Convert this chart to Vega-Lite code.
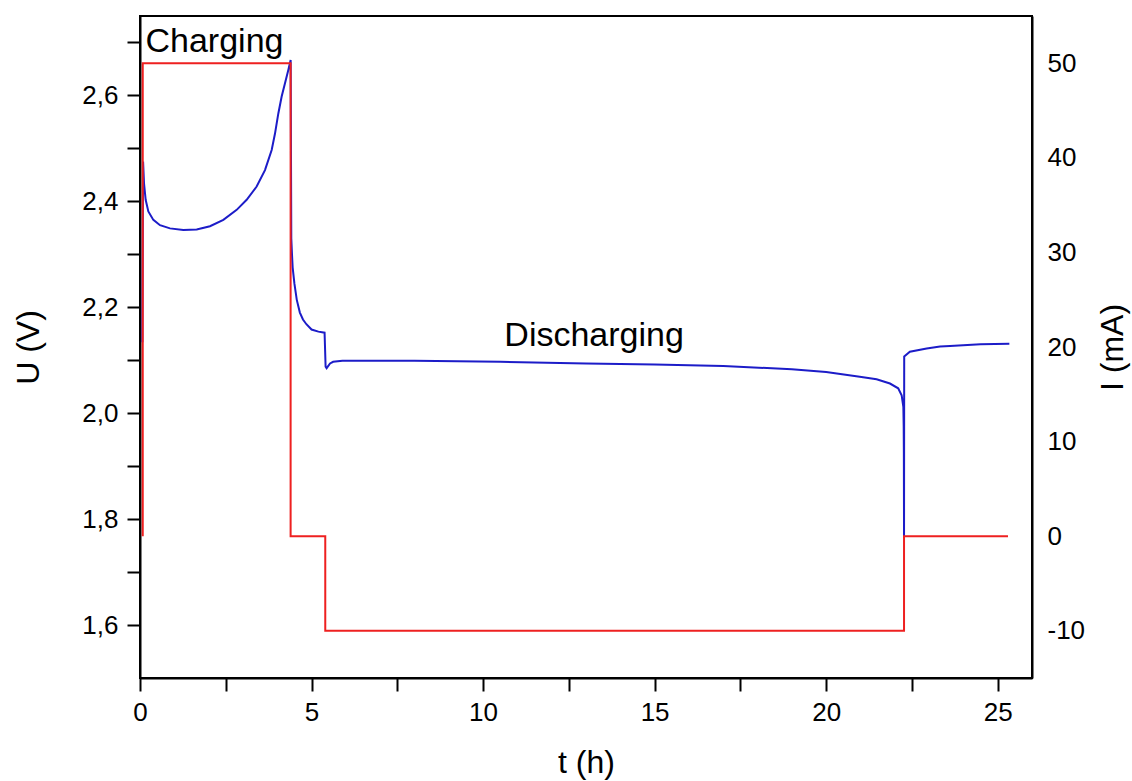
{
  "$schema": "https://vega.github.io/schema/vega-lite/v6.json",
  "width": 892,
  "height": 662,
  "autosize": {"type": "none"},
  "padding": {"left": 140, "top": 16, "right": 100, "bottom": 103},
  "background": "white",
  "config": {
    "font": "Liberation Sans",
    "view": {"stroke": "black", "strokeWidth": 2},
    "axis": {
      "grid": false,
      "domainColor": "black",
      "domainWidth": 2,
      "tickColor": "black",
      "tickWidth": 2,
      "labelColor": "black",
      "labelFont": "Liberation Sans",
      "labelFontSize": 26,
      "labelFlush": false,
      "labelOverlap": false,
      "labelBound": false,
      "titleFont": "Liberation Sans",
      "titleFontSize": 32,
      "titleFontWeight": "normal",
      "titleColor": "black"
    }
  },
  "datasets": {
    "voltage": [
      {"t": 0.07, "U": 2.134}, {"t": 0.09, "U": 2.475}, {"t": 0.117, "U": 2.434}, {"t": 0.165, "U": 2.403},
      {"t": 0.243, "U": 2.381}, {"t": 0.389, "U": 2.365}, {"t": 0.583, "U": 2.355}, {"t": 0.874, "U": 2.349},
      {"t": 1.263, "U": 2.346}, {"t": 1.652, "U": 2.347}, {"t": 2.04, "U": 2.353}, {"t": 2.429, "U": 2.365},
      {"t": 2.818, "U": 2.384}, {"t": 3.109, "U": 2.403}, {"t": 3.4, "U": 2.428}, {"t": 3.643, "U": 2.459},
      {"t": 3.838, "U": 2.497}, {"t": 3.935, "U": 2.528}, {"t": 4.032, "U": 2.566}, {"t": 4.129, "U": 2.598},
      {"t": 4.226, "U": 2.623}, {"t": 4.323, "U": 2.648}, {"t": 4.391, "U": 2.667},
      {"t": 4.41, "U": 2.33}, {"t": 4.43, "U": 2.3}, {"t": 4.45, "U": 2.275}, {"t": 4.5, "U": 2.245},
      {"t": 4.57, "U": 2.214}, {"t": 4.66, "U": 2.19}, {"t": 4.75, "U": 2.177}, {"t": 4.85, "U": 2.168},
      {"t": 5.0, "U": 2.158}, {"t": 5.2, "U": 2.154}, {"t": 5.38, "U": 2.152},
      {"t": 5.41, "U": 2.088}, {"t": 5.44, "U": 2.085}, {"t": 5.54, "U": 2.094},
      {"t": 5.63, "U": 2.097}, {"t": 5.9, "U": 2.099}, {"t": 6.5, "U": 2.099}, {"t": 8.0, "U": 2.099},
      {"t": 10.5, "U": 2.097}, {"t": 13.0, "U": 2.094}, {"t": 15.0, "U": 2.092}, {"t": 17.0, "U": 2.089},
      {"t": 19.0, "U": 2.083}, {"t": 20.0, "U": 2.078}, {"t": 20.98, "U": 2.069}, {"t": 21.47, "U": 2.064},
      {"t": 21.86, "U": 2.056}, {"t": 22.1, "U": 2.047}, {"t": 22.2, "U": 2.034}, {"t": 22.25, "U": 2.012},
      {"t": 22.26, "U": 1.975}, {"t": 22.265, "U": 1.924}, {"t": 22.27, "U": 1.767}, {"t": 22.275, "U": 2.107},
      {"t": 22.44, "U": 2.116}, {"t": 22.93, "U": 2.122}, {"t": 23.32, "U": 2.126}, {"t": 23.61, "U": 2.127},
      {"t": 24.5, "U": 2.13}, {"t": 25.34, "U": 2.131}
    ],
    "current": [
      {"t": 0.08, "I": 0}, {"t": 0.08, "I": 50}, {"t": 4.39, "I": 50}, {"t": 4.39, "I": 0},
      {"t": 5.4, "I": 0}, {"t": 5.4, "I": -10}, {"t": 22.27, "I": -10}, {"t": 22.27, "I": 0},
      {"t": 25.3, "I": 0}
    ],
    "notes": [
      {"t": 0.16, "U": 2.682, "label": "Charging"},
      {"t": 10.62, "U": 2.127, "label": "Discharging"}
    ]
  },
  "layer": [
    {
      "layer": [
        {
          "data": {"name": "voltage"},
          "mark": {"type": "line", "color": "#1c1cc8", "strokeWidth": 2},
          "encoding": {
            "x": {
              "field": "t", "type": "quantitative",
              "scale": {"domain": [0, 26], "nice": false, "zero": false},
              "axis": {
                "title": "t (h)",
                "values": [0, 2.5, 5, 7.5, 10, 12.5, 15, 17.5, 20, 22.5, 25],
                "labelExpr": "datum.value % 5 === 0 ? format(datum.value, 'd') : ''",
                "tickSize": 13,
                "labelPadding": 8,
                "titlePadding": 22,
                "encode": {"ticks": {"update": {"y2": {"signal": "datum.value % 5 === 0 ? 13 : 7"}}}}
              }
            },
            "y": {
              "field": "U", "type": "quantitative",
              "scale": {"domain": [1.5, 2.75], "nice": false, "zero": false},
              "axis": {
                "title": "U (V)",
                "values": [1.6, 1.7, 1.8, 1.9, 2.0, 2.1, 2.2, 2.3, 2.4, 2.5, 2.6, 2.7],
                "labelExpr": "round(datum.value * 10) % 2 === 0 ? replace(format(datum.value, '.1f'), '.', ',') : ''",
                "tickSize": 13,
                "labelPadding": 9,
                "titlePadding": 36,
                "encode": {"ticks": {"update": {"x2": {"signal": "round(datum.value * 10) % 2 === 0 ? -13 : -7"}}}}
              }
            },
            "order": {"value": null}
          }
        },
        {
          "data": {"name": "notes"},
          "mark": {"type": "text", "align": "left", "baseline": "alphabetic", "fontSize": 34, "font": "Liberation Sans", "color": "black"},
          "encoding": {
            "x": {"field": "t", "type": "quantitative"},
            "y": {"field": "U", "type": "quantitative"},
            "text": {"field": "label"}
          }
        }
      ]
    },
    {
      "data": {"name": "current"},
      "mark": {"type": "line", "color": "#ee2020", "strokeWidth": 2},
      "encoding": {
        "x": {"field": "t", "type": "quantitative"},
        "y": {
          "field": "I", "type": "quantitative",
          "scale": {"domain": [-15, 55], "nice": false, "zero": false},
          "axis": {
            "orient": "right",
            "title": "I (mA)",
            "titleAngle": 270,
            "titleBaseline": "top",
            "values": [-10, -5, 0, 5, 10, 15, 20, 25, 30, 35, 40, 45, 50],
            "labelExpr": "datum.value % 10 === 0 ? ('' + datum.value) : ''",
            "tickSize": 0,
            "labelPadding": 15,
            "titlePadding": 13,
            "encode": {"ticks": {"update": {"x2": {"signal": "datum.value % 10 === 0 ? -13 : -7"}}}}
          }
        },
        "order": {"value": null}
      }
    }
  ],
  "resolve": {"scale": {"y": "independent"}}
}
